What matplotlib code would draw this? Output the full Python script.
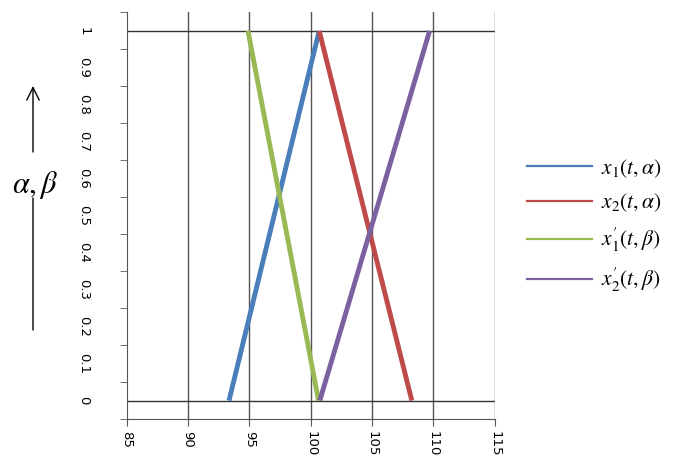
import numpy as np
import matplotlib.pyplot as plt

# alpha / beta levels (vertical axis) and the x values
levels = [0.0, 1.0]
x1 = [93.35, 100.7]      # x1(t,alpha)
x2 = [108.25, 100.7]     # x2(t,alpha)
x1p = [100.65, 94.9]     # x1'(t,beta)
x2p = [100.75, 109.7]    # x2'(t,beta)

series = [
    (x1, "#4a7ebb", r"$x_1(t,\alpha)$"),
    (x2, "#be4b48", r"$x_2(t,\alpha)$"),
    (x1p, "#98b954", r"$x_1'(t,\beta)$"),
    (x2p, "#7d60a0", r"$x_2'(t,\beta)$"),
]

x_ticks = [85, 90, 95, 100, 105, 110, 115]
y_labels = [0, 0.1, 0.2, 0.3, 0.4, 0.5, 0.6, 0.7, 0.8, 0.9, 1]

plt.rcParams["mathtext.fontset"] = "stix"

fig = plt.figure(figsize=(6.73, 4.59), dpi=100)
ax = fig.add_axes([0.188, 0.087, 0.547, 0.886])

# vertical grid lines
for xv in x_ticks[1:]:
    ax.axvline(xv, color="#555555", lw=1.0, zorder=1)
# reference lines at 0 and 1
ax.axhline(0, color="#333333", lw=1.0, zorder=1)
ax.axhline(1, color="#333333", lw=1.0, zorder=1)

lines = []
for xs, col, lab in series:
    ax.plot(xs, levels, color=col, lw=3.5, solid_capstyle="butt", zorder=3)
    # thinner proxy for the legend
    lines.append(plt.Line2D([], [], color=col, lw=1.6, label=lab))

ax.set_xlim(85, 115)
ax.set_ylim(-0.05, 1.05)

ax.set_xticks(x_ticks)
ax.set_xticklabels([str(v) for v in x_ticks], rotation=-90, fontsize=9.5)

# labels at 0..1, tick marks between them
ax.set_yticks(y_labels)
ax.set_yticklabels([str(v) for v in y_labels], rotation=-90, fontsize=9.5, va="center")
ax.set_yticks(np.arange(-0.05, 1.06, 0.1), minor=True)
ax.tick_params(axis="y", which="major", length=0, pad=26)
ax.tick_params(axis="y", which="minor", length=5, color="#555555")
ax.tick_params(axis="x", length=5, color="#555555")

for s in ["top", "right"]:
    ax.spines[s].set_visible(False)
for s in ["left", "bottom"]:
    ax.spines[s].set_color("#555555")

fig.legend(handles=lines, loc="upper left", bbox_to_anchor=(0.755, 0.70),
           frameon=False, fontsize=15.5, handlelength=3.0, labelspacing=0.55,
           handletextpad=0.4)

# alpha, beta label with arrow on the left (figure pixels, origin bottom-left)
H = 459
fig.text(35 / 673, 1 - 185 / H, r"$\alpha,\beta$", fontsize=22,
         ha="center", va="center")
ax.annotate("", xy=(33, H - 86), xytext=(33, H - 152),
            xycoords="figure pixels", textcoords="figure pixels",
            arrowprops=dict(arrowstyle="->,head_length=0.9,head_width=0.45",
                            color="black", lw=1, shrinkA=0, shrinkB=0))
ax.annotate("", xy=(33, H - 198), xytext=(33, H - 330),
            xycoords="figure pixels", textcoords="figure pixels",
            arrowprops=dict(arrowstyle="-", color="black", lw=1,
                            shrinkA=0, shrinkB=0))

fig.savefig("out.png", dpi=100)
